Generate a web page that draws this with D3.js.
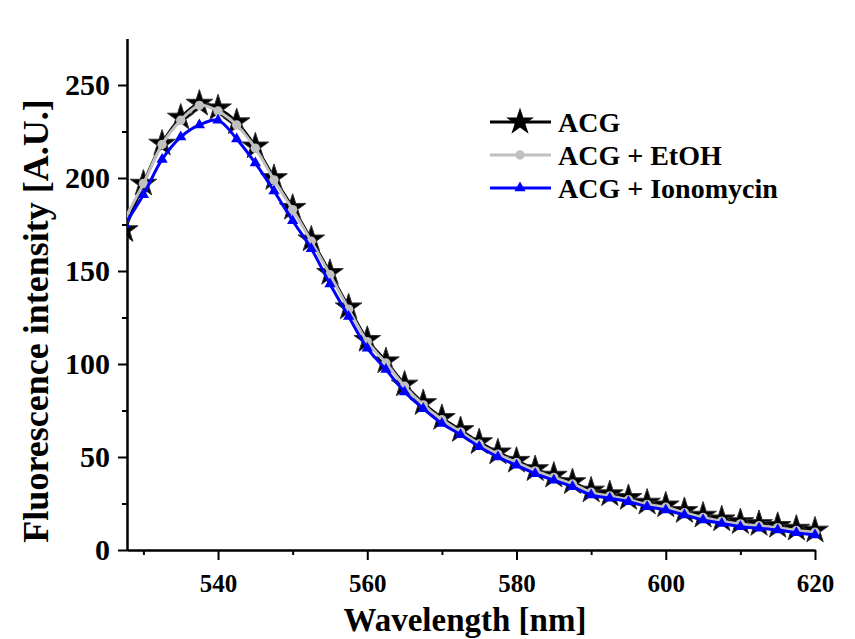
<!DOCTYPE html>
<meta charset='utf-8'>
<script src='https://d3js.org/d3.v7.min.js'></script>
<style>
  body { margin: 0; background: #fff; }
  text { font-family: 'Liberation Serif', 'Times New Roman', serif; font-weight: bold; fill: #000; }
</style>
<body>
<script>
var width = 855,
    height = 639;

// wavelength [nm]
var wavelength = [527.5, 530, 532.5, 535, 537.5, 540, 542.5, 545, 547.5, 550,
  552.5, 555, 557.5, 560, 562.5, 565, 567.5, 570, 572.5, 575,
  577.5, 580, 582.5, 585, 587.5, 590, 592.5, 595, 597.5, 600,
  602.5, 605, 607.5, 610, 612.5, 615, 617.5, 620];

var acg = [172, 197, 218.5, 232.5, 240, 237.5, 230, 217, 200, 184,
  167, 149, 130.5, 113, 101.5, 89, 79, 71, 64.5, 58,
  52.5, 48, 43.5, 40, 36.5, 32, 30, 28, 25.5, 24,
  21, 18.5, 16.5, 15, 14, 13, 11.5, 10.5];

var acgEtoh = [178, 197, 218, 231, 239, 236, 228.5, 216, 199, 183,
  166, 148, 129.5, 112, 100.5, 88, 78, 70, 63.5, 57,
  51.5, 47, 42.5, 39, 35.5, 31, 29, 27, 24.5, 23,
  20, 17.5, 15.5, 14, 13, 12, 10.5, 9.5];

var acgIono = [175, 191, 210, 222, 228.5, 231, 221, 208, 193, 177,
  162, 143, 125.5, 108.5, 97, 85, 76, 68, 62, 55.5,
  50, 45.5, 41, 37.5, 34, 29.6, 27.8, 26, 23.3, 21.5,
  18.8, 16.1, 14.3, 12.5, 11.7, 10.8, 9.3, 8.1];

var seriesNames = ['ACG', 'ACG + EtOH', 'ACG + Ionomycin'];
var xTicks = [540, 560, 580, 600, 620],
    xMinor = [530, 550, 570, 590, 610];
var yTicks = [0, 50, 100, 150, 200, 250],
    yMinor = [25, 75, 125, 175, 225];

var serif = "'Liberation Serif', 'Times New Roman', serif";

var svg = d3.select('body').append('svg').attr('width', width).attr('height', height);

var x = d3.scaleLinear().domain([527.8, 620]).range([127, 815]);
var y = d3.scaleLinear().domain([0, 275]).range([550, 38.5]);

// axes
var xAxis = svg.append('g').attr('transform', 'translate(0,550)')
    .call(d3.axisBottom(x).tickValues(xTicks).tickSize(10).tickSizeOuter(0).tickPadding(14));
svg.append('g').attr('transform', 'translate(0,550)')
    .call(d3.axisBottom(x).tickValues(xMinor).tickSize(5).tickFormat('').tickSizeOuter(0));
var yAxis = svg.append('g').attr('transform', 'translate(127,0)')
    .call(d3.axisLeft(y).tickValues(yTicks).tickSize(9).tickSizeOuter(0).tickPadding(8));
svg.append('g').attr('transform', 'translate(127,0)')
    .call(d3.axisLeft(y).tickValues(yMinor).tickSize(5).tickFormat('').tickSizeOuter(0));

svg.selectAll('.domain').attr('stroke', '#000').attr('stroke-width', 2);
svg.selectAll('.tick line').attr('stroke', '#000').attr('stroke-width', 2);
xAxis.attr('font-family', serif).selectAll('text')
    .attr('font-size', 25).attr('font-family', serif).attr('font-weight', 'bold');
yAxis.attr('font-family', serif).selectAll('text')
    .attr('font-size', 30).attr('font-family', serif).attr('font-weight', 'bold');

svg.append('text').attr('x', 465).attr('y', 631).attr('text-anchor', 'middle')
    .attr('font-size', 33).text('Wavelength [nm]');
svg.append('text').attr('transform', 'translate(48,321) rotate(-90)').attr('text-anchor', 'middle')
    .attr('font-size', 36).text('Fluorescence intensity [A.U.]');

// series
var series = [
  {name: seriesNames[0], values: acg, color: '#000', fill: '#000', shape: d3.symbolStar, size: 220},
  {name: seriesNames[1], values: acgEtoh, color: '#c0c0c0', fill: '#c0c0c0', shape: d3.symbolCircle, size: 70},
  {name: seriesNames[2], values: acgIono, color: '#0000ff', fill: '#0000ff', shape: d3.symbolTriangle, size: 55}
];

var line = d3.line()
    .x(function(d) { return x(d[0]); })
    .y(function(d) { return y(d[1]); })
    .curve(d3.curveCatmullRom);

svg.append('clipPath').attr('id', 'clip').append('rect')
    .attr('x', 127).attr('y', 0).attr('width', 740).attr('height', 560);

var plot = svg.append('g').attr('clip-path', 'url(#clip)');

series.forEach(function(s) {
  var pts = wavelength.map(function(w, i) { return [w, s.values[i]]; });
  var g = plot.append('g');
  g.append('path').datum(pts)
      .attr('fill', 'none')
      .attr('stroke', s.color)
      .attr('stroke-width', 3)
      .attr('d', line);
  g.selectAll('path.m').data(pts).enter().append('path')
      .attr('class', 'm')
      .attr('transform', function(d) { return 'translate(' + x(d[0]) + ',' + y(d[1]) + ')'; })
      .attr('fill', s.fill)
      .attr('stroke', s === series[0] ? '#333' : 'none')
      .attr('stroke-width', 1)
      .attr('d', d3.symbol().type(s.shape).size(s.size));
});

// legend
var legend = svg.append('g');
var legY = [122, 155, 188];
series.forEach(function(s, i) {
  var lg = legend.append('g').attr('transform', 'translate(0,' + legY[i] + ')');
  lg.append('line').attr('x1', 490).attr('x2', 551).attr('y1', 0).attr('y2', 0)
      .attr('stroke', s.color).attr('stroke-width', 3);
  lg.append('path').attr('transform', 'translate(520,0)')
      .attr('fill', s.fill)
      .attr('d', d3.symbol().type(s.shape).size(i === 0 ? 240 : s.size));
  lg.append('text').attr('x', 558).attr('y', 10).attr('font-size', 28).text(s.name);
});
</script>
</body>
